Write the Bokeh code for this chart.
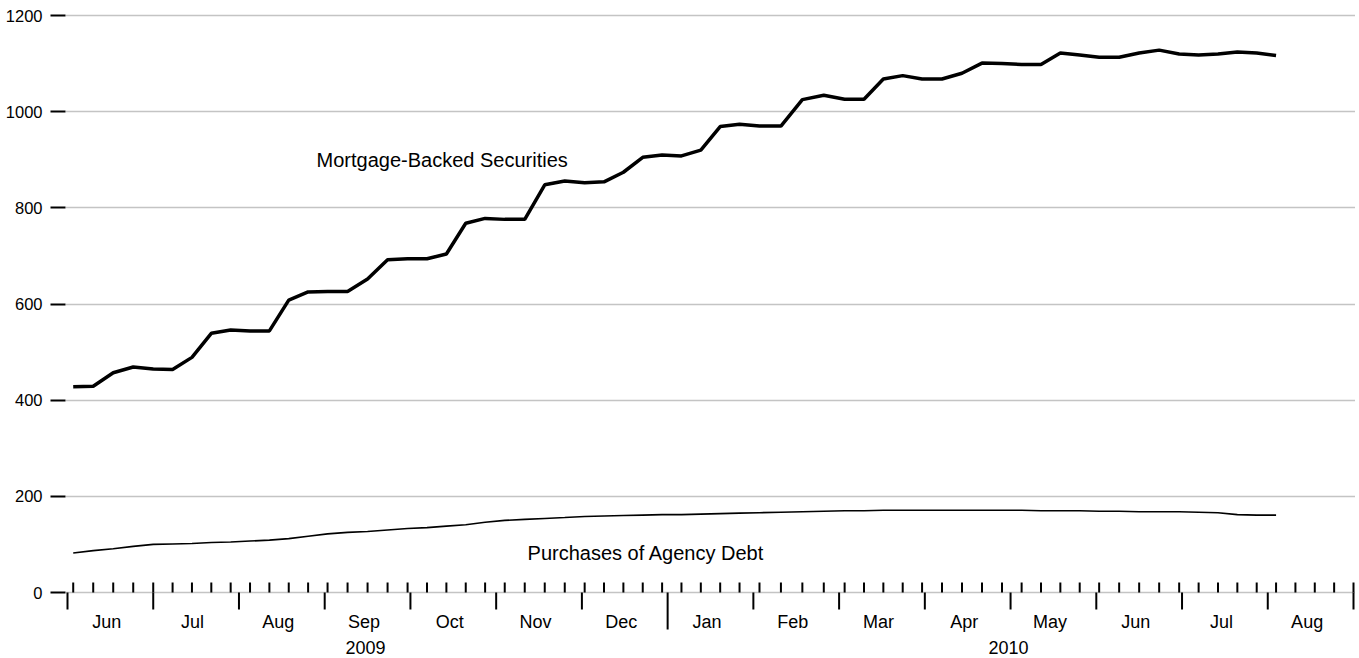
import calendar
import pandas as pd
from bokeh.plotting import figure
from bokeh.models import Range1d, FixedTicker
from bokeh.core.properties import value
from bokeh.embed import file_html
from bokeh.resources import INLINE

# ---------------- data ----------------
week_dates = pd.date_range("2009-06-03", "2010-08-04", freq="7D")   # weekly (Wednesdays)

mbs = [428, 429, 457, 469,
       465, 464, 489, 539, 546,
       544, 544, 608, 625,
       626, 626, 652, 692, 694,
       694, 704, 768, 778,
       776, 776, 848, 856,
       852, 854, 874, 905, 910,
       908, 920, 969, 974,
       970, 970, 1025, 1034,
       1026, 1026, 1068, 1075, 1068,
       1068, 1080, 1101, 1100,
       1098, 1098, 1122, 1118,
       1113, 1113, 1122, 1128, 1120,
       1118, 1120, 1124, 1122,
       1117]

agency = [82, 87, 91, 96,
          100, 101, 102, 104, 105,
          107, 109, 112, 117,
          122, 125, 127, 130, 133,
          135, 138, 141, 146,
          150, 152, 154, 156,
          158, 159, 160, 161, 162,
          162, 163, 164, 165,
          166, 167, 168, 169,
          170, 170, 171, 171, 171,
          171, 171, 171, 171,
          171, 170, 170, 170,
          169, 169, 168, 168, 168,
          167, 166, 162, 161,
          161]

month_labels = ["Jun", "Jul", "Aug", "Sep", "Oct", "Nov", "Dec",
                "Jan", "Feb", "Mar", "Apr", "May", "Jun", "Jul", "Aug"]
year_labels = ["2009", "2010"]
y_ticks = [0, 200, 400, 600, 800, 1000, 1200]
series_labels = ["Mortgage-Backed Securities", "Purchases of Agency Debt"]

month_starts = pd.date_range("2009-06-01", "2010-09-01", freq="MS")
tick_weeks = pd.date_range("2009-06-03", "2010-09-01", freq="7D")


# each month gets the same width; position inside a month by day
def xpos(ts):
    m = (ts.year - 2009) * 12 + (ts.month - 6)
    nd = calendar.monthrange(ts.year, ts.month)[1]
    return m + (ts.day - 1) / nd


xs = [xpos(d) for d in week_dates]
xb = [xpos(d) for d in month_starts]
xw = [xpos(d) for d in tick_weeks]

# ---------------- layout ----------------
W, H = 1355, 658
LEFT = 65
ZERO_PX = 592          # canvas y of the zero line
TOP_PX = 15            # canvas y of 1200
ppu = (ZERO_PX - TOP_PX) / 1200.0
y_end = 1200 + TOP_PX / ppu
y_start = -(H - ZERO_PX) / ppu
pxm = 85.73            # pixels per month
pad = 2 / pxm

FONT = value("Liberation Sans")

p = figure(width=W, height=H, output_backend="svg", toolbar_location=None,
           x_range=Range1d(xb[0] - pad, xb[-1] + pad),
           y_range=Range1d(y_start, y_end),
           x_axis_location=None, min_border=0, min_border_left=LEFT)
p.outline_line_color = None
p.background_fill_color = "white"
p.border_fill_color = "white"
p.xgrid.visible = False

ax = p.yaxis[0]
ax.ticker = FixedTicker(ticks=y_ticks)
ax.axis_line_color = None
ax.major_tick_out = 15
ax.major_tick_in = 0
ax.major_tick_line_width = 2
ax.major_tick_line_color = "black"
ax.minor_tick_line_color = None
ax.major_label_text_font = "Liberation Sans"
ax.major_label_text_font_size = "16.5px"
ax.major_label_text_color = "black"
ax.major_label_standoff = 8
p.ygrid.grid_line_color = "#c4c4c4"
p.ygrid.grid_line_width = 1.6

# x axis decorations
up = 10 / ppu
down = 17 / ppu
down_year = 37 / ppu
p.segment(x0=xw, y0=[0] * len(xw), x1=xw, y1=[up] * len(xw),
          line_color="black", line_width=2)
p.segment(x0=xb, y0=[0] * len(xb), x1=xb,
          y1=[-(down_year if d.month == 1 else down) for d in month_starts],
          line_color="black", line_width=2)

mc = [xb[i] + 0.5 - 3.5 / pxm for i in range(len(month_labels))]
p.text(x=mc, y=[-29 / ppu] * len(mc), text=month_labels,
       text_font=FONT, text_font_size=value("18px"), text_color="black",
       text_align="center", text_baseline="middle")

year_of = [d.year for d in month_starts[:-1]]
yc = []
for yl in year_labels:
    idx = [i for i, yr in enumerate(year_of) if str(yr) == yl]
    yc.append((xb[idx[0]] + xb[idx[-1] + 1]) / 2 - 2 / pxm)
p.text(x=yc, y=[-55 / ppu] * len(yc), text=year_labels,
       text_font=FONT, text_font_size=value("18px"), text_color="black",
       text_align="center", text_baseline="middle")

# series
p.line(xs, mbs, line_color="black", line_width=3.5)
p.line(xs, agency, line_color="black", line_width=1.6)

# series labels (left edge, vertical middle)
lab_x = [2.905, 5.366]
lab_y = [900, 83]
p.text(x=lab_x, y=lab_y, text=series_labels,
       text_font=FONT, text_font_size=value("20px"), text_color="black",
       text_align="left", text_baseline="middle")

open("out.html", "w").write(file_html(p, INLINE))
